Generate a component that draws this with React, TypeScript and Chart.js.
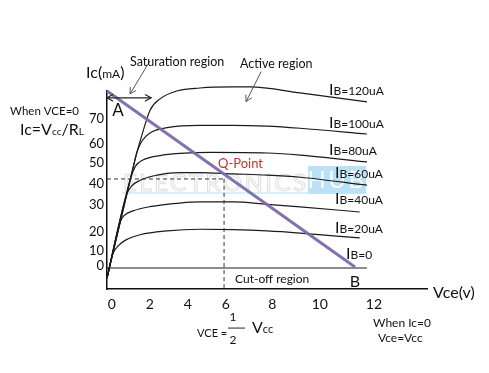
import React, { useEffect, useRef } from "react";
import { Chart, registerables } from "chart.js";
Chart.register(...registerables);

// ---- axis ticks (scale units; the original axis is hand-drawn & non-uniform) ----
const xTickValues = [0.25, 2.25, 4.25, 6.25, 8.7, 11.2, 14.05];
const xTickLabels = ["0", "2", "4", "6", "8", "10", "12"];
const yTickValues = [1, 8, 17, 29.5, 39.5, 49.3, 58.2, 70];
const yTickLabels = ["0", "10", "20", "30", "40", "50", "60", "70"];

// ---- characteristic curves: [Vce, Ic] ----
const curveIB0 = [[0, 0], [13.68, 0]];
const curveIB20 = [[0, -4.7], [0.3, 6.5], [0.6, 10.5], [1.0, 13.2], [1.74, 15.6], [3.16, 17.4], [4.89, 18.2], [6.63, 18], [8.42, 17.4], [10.16, 16.4], [13.3, 14.1]];
const curveIB40 = [[0, -4.7], [0.7, 21.7], [0.9, 24.6], [1.37, 26.8], [2.26, 28.8], [3.84, 30.5], [4.89, 31], [6.63, 31], [8.42, 29.9], [10.16, 28.7], [13.3, 26.3]];
const curveIB60 = [[0, -4.7], [1.05, 34.9], [1.3, 38.5], [1.7, 41], [2.42, 43.2], [3.84, 44.8], [4.89, 44.8], [6.63, 44.2], [8.42, 43.6], [10.16, 42.6], [13.68, 38.9]];
const curveIB80 = [[0, -4.7], [1.25, 42.4], [1.5, 47.8], [1.89, 50.7], [2.79, 52.8], [3.84, 53.8], [5.5, 54.3], [8.42, 54], [10.16, 53], [13.68, 49.8]];
const curveIB100 = [[0, -4.7], [1.32, 45.1], [1.58, 54.5], [1.84, 59.6], [2.26, 63.4], [3.16, 65.9], [4.89, 67], [6.63, 67], [8.42, 66.6], [10.16, 65.6], [13.68, 62.9]];
const curveIB120 = [[0, -4.7], [1.32, 45.1], [1.58, 54.5], [1.84, 62.5], [2.26, 74], [2.79, 79.4], [3.68, 83.1], [4.89, 84.5], [6.63, 85], [7.53, 85], [10.16, 82.2], [13.68, 78]];

// load line A -> B and Q-point
const loadLine = [[0, 83.1], [13.05, 0.47]];
const qPoint = [6.16, 41.8];
const xMin = 0, xMax = 16.84, yMin = -9.86, yMax = 83.1;

// saturation double arrow span
const satArrow = [[0, 79.9], [2.32, 79.9]];
// pointer arrows [from, to]
const pointers = [
  [[2.26, 97.2], [1.21, 81.7]],
  [[8.11, 92.2], [7.32, 78.1]],
];

const FONT = "Lato, 'Noto Sans', sans-serif";
type Seg = [string, number];
type Note = { x: number; y: number; segs: Seg[]; align?: "left" | "center"; color?: string };
const notes: Note[] = [
  { x: 1.21, y: 96.8, segs: [["Saturation region", 12.5]] },
  { x: 7.0, y: 95.8, segs: [["Active region", 12.5]] },
  { x: 0.58, y: 74.2, segs: [["A", 17]], align: "center" },
  { x: 11.68, y: 84.1, segs: [["I", 16], ["B=120uA", 12]] },
  { x: 11.68, y: 68.6, segs: [["I", 16], ["B=100uA", 12]] },
  { x: 11.68, y: 55.9, segs: [["I", 16], ["B=80uA", 12]] },
  { x: 12.0, y: 45.1, segs: [["I", 16], ["B=60uA", 12]] },
  { x: 12.0, y: 32.9, segs: [["I", 16], ["B=40uA", 12]] },
  { x: 12.0, y: 19.3, segs: [["I", 16], ["B=20uA", 12]] },
  { x: 12.58, y: 7.0, segs: [["I", 16], ["B=0", 12]] },
  { x: -1.1, y: 92, segs: [["Ic(", 16], ["mA", 12], [")", 16]] },
  { x: -5.1, y: 73.7, segs: [["When VCE=0", 11.5]] },
  { x: -4.58, y: 65.3, segs: [["Ic=V", 16], ["cc", 10], ["/R", 16], ["L", 10]] },
  { x: 17.16, y: -11.3, segs: [["Vce(v)", 16]] },
  { x: 4.74, y: -30.5, segs: [["VCE =", 11]] },
  { x: 6.63, y: -23, segs: [["1", 12]], align: "center" },
  { x: 6.63, y: -33.8, segs: [["2", 12]], align: "center" },
  { x: 7.63, y: -27.7, segs: [["V", 16], ["cc", 11]] },
  { x: 14.0, y: -25.8, segs: [["When Ic=0", 12]] },
  { x: 14.26, y: -32.9, segs: [["Vce=Vcc", 12]] },
  { x: 5.84, y: 49.3, segs: [["Q-Point", 13]], color: "#c8322d" },
  { x: 6.74, y: -5.2, segs: [["Cut-off region", 12]] },
  { x: 13.05, y: -6.1, segs: [["B", 16]], align: "center" },
];
const fractionBar = [[6.37, -28.2], [7.26, -28.2]];

const toXY = (pts: number[][]) => pts.map(([x, y]) => ({ x, y }));

function head(ctx: CanvasRenderingContext2D, x1: number, y1: number, x2: number, y2: number, s: number) {
  const a = Math.atan2(y2 - y1, x2 - x1);
  ctx.beginPath();
  ctx.moveTo(x2 - s * Math.cos(a - 0.5), y2 - s * Math.sin(a - 0.5));
  ctx.lineTo(x2, y2);
  ctx.lineTo(x2 - s * Math.cos(a + 0.5), y2 - s * Math.sin(a + 0.5));
  ctx.stroke();
}

const annotPlugin = {
  id: "annot",
  beforeDatasetsDraw(chart: any) {
    const { ctx, scales } = chart;
    const px = (x: number) => scales.x.getPixelForValue(x);
    const py = (y: number) => scales.y.getPixelForValue(y);
    ctx.save();
    // faint watermark
    ctx.font = `24px ${FONT}`;
    (ctx as any).letterSpacing = "2.5px";
    ctx.textBaseline = "middle";
    ctx.strokeStyle = "rgba(160,160,160,0.35)";
    ctx.lineWidth = 1;
    ctx.strokeText("ELECTRONICS", px(0.84), py(39.9));
    ctx.strokeStyle = "rgba(130,200,235,0.6)";
    ctx.beginPath();
    ctx.moveTo(px(0.79), py(35.2));
    ctx.lineTo(px(10.58), py(35.2));
    ctx.stroke();
    ctx.fillStyle = "rgba(140,205,240,0.6)";
    ctx.fillRect(px(10.58), py(47.9), px(13.63) - px(10.58), py(34.8) - py(47.9));
    ctx.fillStyle = "rgba(255,255,255,0.9)";
    ctx.textAlign = "center";
    ctx.fillText("HUB", (px(10.58) + px(13.63)) / 2, (py(47.9) + py(34.8)) / 2);
    ctx.restore();
  },
  afterDatasetsDraw(chart: any) {
    const { ctx, scales } = chart;
    const px = (x: number) => scales.x.getPixelForValue(x);
    const py = (y: number) => scales.y.getPixelForValue(y);
    ctx.save();
    ctx.strokeStyle = "#222";
    ctx.lineWidth = 1.2;
    // saturation double arrow
    const [a, b] = satArrow;
    ctx.beginPath();
    ctx.moveTo(px(a[0]), py(a[1]));
    ctx.lineTo(px(b[0]), py(b[1]));
    ctx.stroke();
    head(ctx, px(b[0]), py(b[1]), px(a[0]), py(a[1]), 7);
    head(ctx, px(a[0]), py(a[1]), px(b[0]), py(b[1]), 7);
    // pointers
    ctx.strokeStyle = "#555";
    ctx.lineWidth = 1;
    for (const [f, t] of pointers) {
      ctx.beginPath();
      ctx.moveTo(px(f[0]), py(f[1]));
      ctx.lineTo(px(t[0]), py(t[1]));
      ctx.stroke();
      head(ctx, px(f[0]), py(f[1]), px(t[0]), py(t[1]), 7);
    }
    // fraction bar
    ctx.strokeStyle = "#222";
    ctx.beginPath();
    ctx.moveTo(px(fractionBar[0][0]), py(fractionBar[0][1]));
    ctx.lineTo(px(fractionBar[1][0]), py(fractionBar[1][1]));
    ctx.stroke();
    // texts
    ctx.textBaseline = "alphabetic";
    ctx.textAlign = "left";
    for (const n of notes) {
      const maxS = Math.max(...n.segs.map((s) => s[1]));
      let total = 0;
      for (const [t, s] of n.segs) {
        ctx.font = `${s}px ${FONT}`;
        total += ctx.measureText(t).width;
      }
      let x = px(n.x) - (n.align === "center" ? total / 2 : 0);
      const base = py(n.y) + maxS * 0.36;
      ctx.fillStyle = n.color || "#111";
      for (const [t, s] of n.segs) {
        ctx.font = `${s}px ${FONT}`;
        ctx.fillText(t, x, base);
        x += ctx.measureText(t).width;
      }
    }
    ctx.restore();
  },
};

export default function App() {
  const ref = useRef<HTMLCanvasElement>(null);
  useEffect(() => {
    if (!ref.current) return;
    const curve = (pts: number[][]) => ({
      data: toXY(pts),
      showLine: true,
      borderColor: "#1a1a1a",
      borderWidth: 1.2,
      pointRadius: 0,
      cubicInterpolationMode: "monotone" as const,
      clip: false as any,
      fill: false,
    });
    const chart = new Chart(ref.current, {
      type: "scatter",
      data: {
        datasets: [
          { ...curve(loadLine), borderColor: "rgba(125,106,172,0.95)", borderWidth: 3, cubicInterpolationMode: "default" as const },
          { ...curve([[xMin, qPoint[1]], qPoint]), borderColor: "#333", borderWidth: 1, borderDash: [4, 3] },
          { ...curve([qPoint, [qPoint[0], yMin]]), borderColor: "#333", borderWidth: 1, borderDash: [4, 3] },
          curve(curveIB0),
          curve(curveIB20),
          curve(curveIB40),
          curve(curveIB60),
          curve(curveIB80),
          curve(curveIB100),
          curve(curveIB120),
        ],
      },
      options: {
        animation: false,
        responsive: false,
        maintainAspectRatio: false,
        layout: { padding: { left: 67, right: 62, top: 91, bottom: 44 } },
        plugins: { legend: { display: false }, tooltip: { enabled: false } },
        scales: {
          x: {
            type: "linear",
            min: xMin,
            max: xMax,
            grid: { display: false, drawTicks: false },
            border: { display: true, color: "#111", width: 1.5 },
            afterBuildTicks: (s: any) => { s.ticks = xTickValues.map((v) => ({ value: v })); },
            afterFit: (s: any) => { s.height = 40; },
            ticks: {
              autoSkip: false,
              maxRotation: 0,
              padding: 7,
              color: "#111",
              font: { family: FONT, size: 14 },
              callback: (_v: any, i: number) => xTickLabels[i],
            },
          },
          y: {
            type: "linear",
            min: yMin,
            max: yMax,
            grid: { display: false, drawTicks: false },
            border: { display: true, color: "#111", width: 1.5 },
            afterBuildTicks: (s: any) => { s.ticks = yTickValues.map((v) => ({ value: v })); },
            afterFit: (s: any) => { s.width = 40; },
            ticks: {
              autoSkip: false,
              padding: 3,
              color: "#111",
              font: { family: FONT, size: 13 },
              callback: (_v: any, i: number) => yTickLabels[i],
            },
          },
        },
      },
      plugins: [annotPlugin],
    });
    return () => chart.destroy();
  }, []);
  return (
    <div style={{ position: "fixed", left: 0, top: 0, width: 489, height: 373, background: "#fff" }}>
      <canvas ref={ref} width={489} height={373} style={{ width: 489, height: 373, display: "block" }} />
    </div>
  );
}
